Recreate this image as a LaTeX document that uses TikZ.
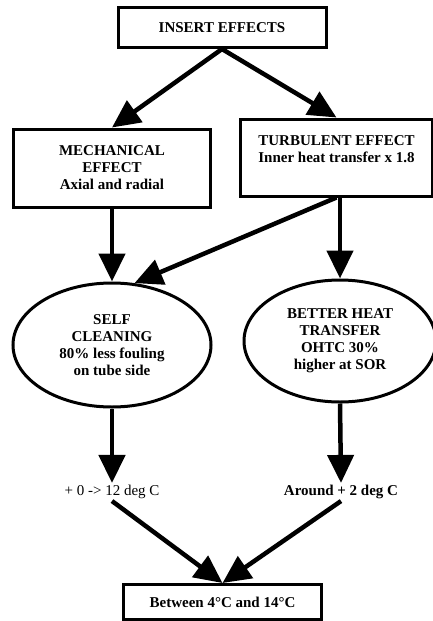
\documentclass[tikz,border=0pt]{standalone}
\usepackage{fontspec}
\setmainfont{Liberation Serif}
\usetikzlibrary{arrows.meta,shapes.geometric}
\tikzset{
  box/.style={draw, line width=3pt, align=center, inner sep=0pt,
    font=\fontsize{15}{17}\selectfont\bfseries},
  oval/.style={ellipse, draw, line width=3pt, align=center, inner sep=0pt,
    font=\fontsize{15}{17}\selectfont\bfseries},
  flow/.style={line width=4.5pt, -{Triangle[length=28pt,width=26pt]}}
}
\begin{document}
\begin{tikzpicture}[x=1pt, y=-1pt]
  \useasboundingbox (0,0) rectangle (433,621);
  \node[box, minimum width=208pt, minimum height=40pt] (Top) at (222, 27.5) {INSERT EFFECTS};
  \node[box, minimum width=197pt, minimum height=78pt] (Mech) at (112, 168) {MECHANICAL\\EFFECT\\Axial and radial};
  \node[box, minimum width=192pt, minimum height=77pt] (Turb) at (336.5, 157.5) {TURBULENT EFFECT\\Inner heat transfer x 1.8\\ };
  \node[oval, minimum width=198pt, minimum height=124pt] (Self) at (112, 345) {SELF\\CLEANING\\80\% less fouling\\on tube side};
  \node[oval, minimum width=192pt, minimum height=122pt] (Heat) at (340, 341) {BETTER HEAT\\TRANSFER\\OHTC 30\%\\higher at SOR};
  \node[font=\fontsize{15}{17}\selectfont, inner sep=2pt] (LeftT) at (112, 492) {+ 0 -> 12 deg C};
  \node[font=\fontsize{15}{17}\selectfont\bfseries, inner sep=2pt] (RightT) at (341, 492) {Around + 2 deg C};
  \node[box, minimum width=198pt, minimum height=35pt] (Bot) at (222.5, 602) {Between 4°C and 14°C};
  \draw[flow] (Top.south) -- (Mech.north);
  \draw[flow] (Top.south) -- (Turb.north);
  \draw[flow] (Mech.south) -- (Self.north);
  \draw[flow] (Turb.south) -- (Self.70);
  \draw[flow] (Turb.south -| Heat.north) -- (Heat.north);
  \draw[flow] (Self.south) -- (LeftT.north);
  \draw[flow] (Heat.south) -- (RightT.north);
  \draw[flow] (LeftT.south) -- (Bot.north);
  \draw[flow] (RightT.south) -- (Bot.north);
\end{tikzpicture}
\end{document}
